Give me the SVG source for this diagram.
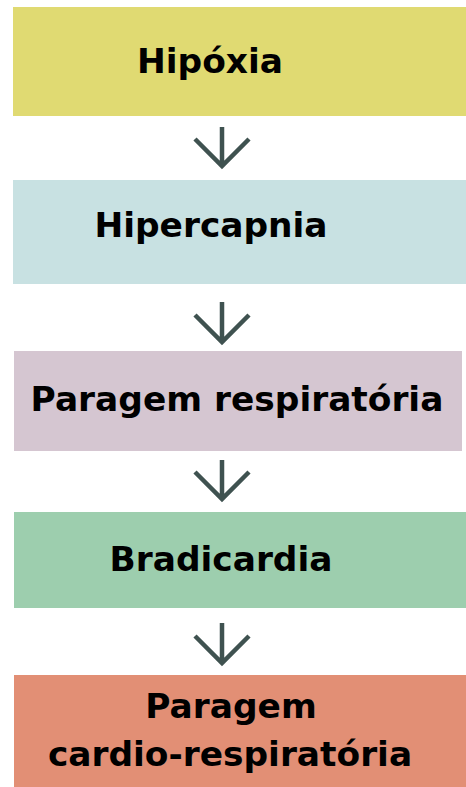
<svg xmlns="http://www.w3.org/2000/svg" width="466" height="787" viewBox="0 0 466 787">
<style>
text{font-family:"DejaVu Sans",Verdana,sans-serif;font-weight:bold;font-size:34.4px;fill:#000;text-anchor:middle}
.arr{fill:none;stroke:#3F5250;stroke-width:4.5;stroke-linejoin:miter;stroke-linecap:butt}
</style>
<rect width="466" height="787" fill="#fff"/>
<g id="n1"><rect x="13" y="7" width="453" height="109" fill="#E0DA72"/><text x="210" y="73">Hipóxia</text></g>
<g id="n2"><rect x="13" y="180" width="453" height="104" fill="#C8E1E2"/><text x="211" y="237">Hipercapnia</text></g>
<g id="n3"><rect x="14" y="351" width="448" height="100" fill="#D5C6D1"/><text x="237" y="411">Paragem respiratória</text></g>
<g id="n4"><rect x="14" y="512" width="452" height="96" fill="#9DCEAE"/><text x="221" y="571">Bradicardia</text></g>
<g id="n5"><rect x="14" y="675" width="452" height="112" fill="#E28F75"/><text x="231" y="718">Paragem</text><text x="230" y="766">cardio-respiratória</text></g>
<g id="connectors">
<path class="arr" d="M222 127V163M195 139L222 166L249 139"/>
<path class="arr" d="M222 302V339M195 315L222 342L249 315"/>
<path class="arr" d="M222 460V496M195 472L222 499L249 472"/>
<path class="arr" d="M222 623V660M195 636L222 663L249 636"/>
</g>
</svg>
